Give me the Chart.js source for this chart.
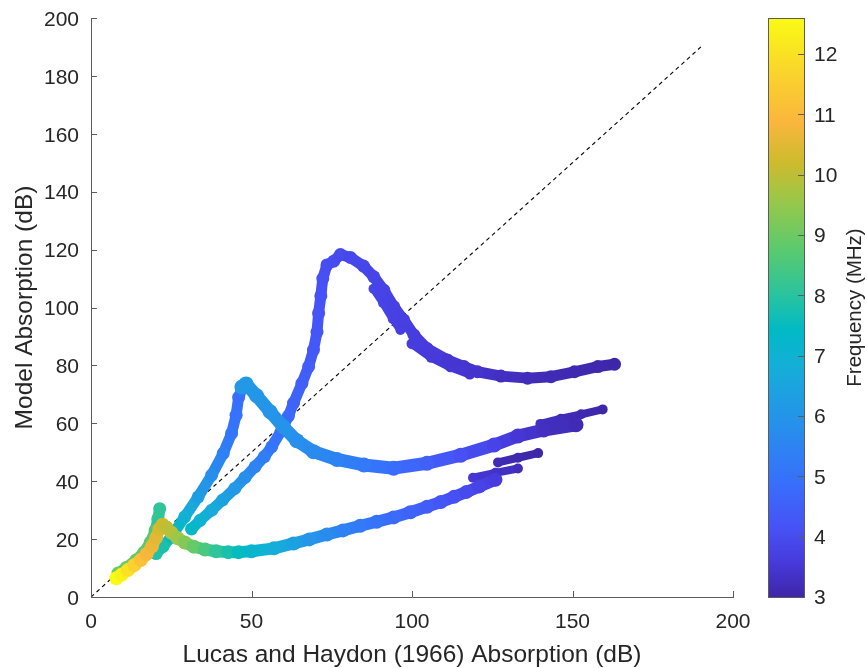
<!DOCTYPE html>
<html lang="en">
<head>
<meta charset="UTF-8">
<title>Model vs Lucas and Haydon absorption</title>
<script src="https://cdn.jsdelivr.net/npm/chart.js@4.4.1/dist/chart.umd.min.js"></script>
<style>
  html, body { margin: 0; padding: 0; background: #fff; }
  #wrap { width: 867px; height: 668px; }
</style>
</head>
<body>
<div id="wrap"><canvas id="chart" width="867" height="668"></canvas></div>
<script>
// axis ticks
const xTicks = [0, 50, 100, 150, 200];
const yTicks = [0, 20, 40, 60, 80, 100, 120, 140, 160, 180, 200];
const cbTicks = [3, 4, 5, 6, 7, 8, 9, 10, 11, 12];
const cbMin = 3;
const cbMax = 12.6;

// 1:1 reference line
const diagX = [0, 190];
const diagY = [0, 190];

// yellow start + lower curve (x = Lucas and Haydon dB, y = model dB, f = MHz)
const bottomX = [7.9, 9.5, 11.5, 13.5, 15.5, 17.3, 19, 20.3, 21.3, 22.3, 23.5, 25, 27, 29.2, 32, 35.5, 39, 42.7, 46, 50, 57, 63.1, 68, 73.5, 78.5, 83.9, 89, 94.3, 99.5, 104.7, 109, 113.1, 117, 121, 126];
const bottomY = [6.5, 7.7, 9.3, 11, 12.8, 14.8, 17.5, 20.5, 23.5, 25, 24, 22.3, 20.3, 18.8, 17.4, 16.4, 15.8, 15.5, 15.5, 15.8, 16.8, 18.5, 19.9, 21.6, 23, 24.6, 26, 27.5, 29.3, 31.2, 32.8, 34.6, 36.3, 38.2, 40.5];
const bottomF = [12.6, 12.4, 12.0, 11.6, 11.2, 10.9, 10.7, 10.5, 10.35, 10.2, 10.05, 9.9, 9.6, 9.3, 8.9, 8.5, 8.1, 7.8, 7.5, 7.2, 6.8, 6.4, 6.0, 5.7, 5.45, 5.2, 5.0, 4.8, 4.6, 4.4, 4.25, 4.1, 3.95, 3.8, 3.6];
const bottomTail1X = [119, 126, 133];
const bottomTail1Y = [41.2, 42.9, 44.4];
const bottomTail1F = [3.5, 3.35, 3.2];
const bottomTail2X = [126.8, 133, 139.3];
const bottomTail2Y = [46.5, 48.1, 49.7];
const bottomTail2F = [3.15, 3.08, 3.0];

// green spike + left rising band
const leftX = [8.4, 11, 14, 16.5, 18.5, 20, 20.8, 21.4, 21, 20, 19, 20.3, 22.5, 25, 29.2, 33.4, 37.6, 41.2, 43.8, 45.2, 46, 47.5];
const leftY = [8.3, 10.2, 12.8, 15.5, 19, 23, 27, 30.5, 26, 20, 15.5, 15, 17.5, 20.8, 27.7, 34.6, 42.1, 49.6, 56.5, 62.8, 69, 73];
const leftF = [9.0, 8.95, 8.9, 8.8, 8.7, 8.5, 8.3, 8.1, 8.05, 8.0, 7.95, 7.9, 7.8, 7.5, 6.9, 6.3, 5.8, 5.4, 5.1, 5.0, 4.9, 4.9];

// curve falling from the 72 dB peak
const midX = [47, 48.3, 51.6, 55.8, 59.9, 64.1, 69.3, 76.6, 85, 94.3, 104.7, 115.2, 125.6, 133, 141, 151.1];
const midY = [72.5, 73.6, 69.5, 64, 58.8, 54, 50.2, 47.5, 45.6, 44.5, 46.2, 49, 52.5, 55.6, 57.7, 59.5];
const midF = [6.1, 6.1, 6.05, 6.0, 5.95, 5.85, 5.7, 5.45, 5.2, 4.9, 4.5, 4.1, 3.8, 3.5, 3.3, 3.15];
const midTailX = [140, 146.4, 152.7, 159.4];
const midTailY = [59.8, 61.6, 63.1, 64.8];
const midTailF = [3.3, 3.2, 3.1, 3.0];

// right rising band, 118 dB peak and its tail
const highX = [31.3, 34, 37.6, 41, 44.8, 48, 51.1, 54, 56.3, 59.4, 61.5, 63.1, 65.7, 67.8, 69.3, 70.4, 70.9, 71.6, 72.2, 73.5, 75.6, 77.7, 80.8, 84.9, 88.1, 91.2, 94.3, 97.4, 100.6, 104.7, 111, 116.2, 120.4, 127.7, 136, 143.3, 150.6, 157.9, 163.1];
const highY = [23.5, 26.5, 30, 33.5, 37.5, 41.3, 45, 48.5, 51.9, 57.7, 62.5, 67, 73.8, 79.6, 85.3, 91.5, 98, 104, 110, 114.7, 116, 118.3, 117.3, 114.3, 110.6, 106, 100.3, 95.7, 90.5, 85.8, 81.9, 79.6, 77.8, 76.3, 75.6, 76.1, 77.8, 79.6, 80.4];
const highF = [7.3, 7.0, 6.7, 6.4, 6.1, 5.8, 5.5, 5.3, 5.1, 4.9, 4.75, 4.6, 4.5, 4.4, 4.3, 4.25, 4.2, 4.15, 4.1, 4.05, 4.0, 3.95, 3.9, 3.87, 3.83, 3.8, 3.75, 3.7, 3.65, 3.6, 3.5, 3.45, 3.4, 3.3, 3.2, 3.15, 3.1, 3.05, 3.0];
const highInnerX = [88, 91, 94, 96.4];
const highInnerY = [106.5, 101.5, 96, 92.2];
const highInnerF = [3.85, 3.8, 3.75, 3.7];
const highLowerX = [100, 106, 112, 118];
const highLowerY = [87.5, 82.8, 79.5, 77];
const highLowerF = [3.65, 3.55, 3.5, 3.42];

const fontFamily = "'Liberation Sans', Arial, Helvetica, sans-serif";
const textColor = '#262626';
const axisColor = '#5c5c5c';

// parula-like colormap, position 0..1
const parulaStops = [
  [0.00, 62, 38, 168],
  [0.06, 71, 58, 220],
  [0.12, 71, 82, 246],
  [0.20, 55, 112, 252],
  [0.30, 38, 145, 235],
  [0.40, 20, 175, 215],
  [0.46, 0, 186, 198],
  [0.52, 40, 195, 160],
  [0.60, 90, 202, 110],
  [0.68, 150, 200, 75],
  [0.75, 205, 187, 45],
  [0.82, 250, 182, 60],
  [0.90, 250, 210, 45],
  [1.00, 249, 251, 20]
];

function parula(f) {
  let t = (f - cbMin) / (cbMax - cbMin);
  t = Math.max(0, Math.min(1, t));
  for (let i = 1; i < parulaStops.length; i++) {
    const a = parulaStops[i - 1];
    const b = parulaStops[i];
    if (t <= b[0]) {
      const u = (t - a[0]) / (b[0] - a[0]);
      const r = Math.round(a[1] + (b[1] - a[1]) * u);
      const g = Math.round(a[2] + (b[2] - a[2]) * u);
      const bl = Math.round(a[3] + (b[3] - a[3]) * u);
      return `rgb(${r},${g},${bl})`;
    }
  }
  return 'rgb(249,251,20)';
}

// one band of markers, joined by a thick line coloured by frequency
function branch(xs, ys, fs, width, order) {
  return {
    data: xs.map((x, i) => ({ x: x, y: ys[i] })),
    showLine: true,
    order: order,
    borderWidth: width,
    borderCapStyle: 'round',
    borderJoinStyle: 'round',
    borderColor: parula(fs[0]),
    segment: {
      borderColor: ctx => parula((fs[ctx.p0DataIndex] + fs[ctx.p1DataIndex]) / 2)
    },
    pointRadius: width / 2 + 1,
    pointBorderWidth: 0,
    pointBackgroundColor: fs.map(parula),
    pointHoverRadius: width / 2 + 1
  };
}

const datasets = [
  branch(bottomX, bottomY, bottomF, 12, 1),
  branch(bottomTail1X, bottomTail1Y, bottomTail1F, 8, 1),
  branch(bottomTail2X, bottomTail2Y, bottomTail2F, 8, 1),
  branch(midX, midY, midF, 13, 2),
  branch(midTailX, midTailY, midTailF, 8, 2),
  branch(leftX, leftY, leftF, 11, 3),
  branch(highX, highY, highF, 11, 4),
  branch(highInnerX, highInnerY, highInnerF, 8, 4),
  branch(highLowerX, highLowerY, highLowerF, 9, 4),
  {
    data: diagX.map((x, i) => ({ x: x, y: diagY[i] })),
    showLine: true,
    order: 10,
    borderColor: '#000',
    borderWidth: 1.1,
    borderDash: [4, 3.5],
    pointRadius: 0
  }
];

// MATLAB style inward ticks and the colorbar
const matlabAxes = {
  id: 'matlabAxes',
  afterDraw(chart) {
    const { ctx, chartArea } = chart;
    const sx = chart.scales.x;
    const sy = chart.scales.y;
    const cb = chart.scales.cb;
    ctx.save();
    ctx.strokeStyle = axisColor;
    ctx.lineWidth = 1;
    ctx.beginPath();
    yTicks.forEach(v => {
      const py = Math.round(sy.getPixelForValue(v)) + 0.5;
      ctx.moveTo(chartArea.left, py);
      ctx.lineTo(chartArea.left + 6, py);
    });
    xTicks.forEach(v => {
      const px = Math.round(sx.getPixelForValue(v)) + 0.5;
      ctx.moveTo(px, chartArea.bottom);
      ctx.lineTo(px, chartArea.bottom - 6);
    });
    ctx.stroke();

    // colorbar
    const left = 768, right = 804;
    const top = cb.getPixelForValue(cbMax);
    const bottom = cb.getPixelForValue(cbMin);
    const grad = ctx.createLinearGradient(0, bottom, 0, top);
    parulaStops.forEach(s => grad.addColorStop(s[0], `rgb(${s[1]},${s[2]},${s[3]})`));
    ctx.fillStyle = grad;
    ctx.fillRect(left, top, right - left, bottom - top);
    ctx.strokeStyle = axisColor;
    ctx.strokeRect(left + 0.5, Math.round(top) + 0.5, right - left, Math.round(bottom - top));
    ctx.beginPath();
    cbTicks.forEach(v => {
      const py = Math.round(cb.getPixelForValue(v)) + 0.5;
      ctx.moveTo(right, py);
      ctx.lineTo(right - 6, py);
    });
    ctx.stroke();

    ctx.translate(855, (cb.top + cb.bottom) / 2);
    ctx.rotate(-Math.PI / 2);
    ctx.fillStyle = textColor;
    ctx.font = `20.5px ${fontFamily}`;
    ctx.textAlign = 'center';
    ctx.textBaseline = 'middle';
    ctx.fillText('Frequency (MHz)', 0, 0);
    ctx.restore();
  }
};

const tickFont = { family: fontFamily, size: 21 };

// keep the plot box fixed: vertical scales should not push the chart area
function fixVertical(width) {
  return s => {
    s.width = width;
    s.paddingTop = 0;
    s.paddingBottom = 0;
  };
}

new Chart(document.getElementById('chart'), {
  type: 'scatter',
  data: { datasets: datasets },
  options: {
    responsive: false,
    animation: false,
    events: [],
    layout: { padding: { left: 0, right: 0, top: 18, bottom: 0 } },
    plugins: { legend: { display: false }, tooltip: { enabled: false } },
    scales: {
      x: {
        type: 'linear',
        position: 'bottom',
        min: 0,
        max: 200,
        afterBuildTicks: s => { s.ticks = xTicks.map(v => ({ value: v })); },
        afterFit: s => { s.height = 71; },
        grid: { display: true, drawOnChartArea: false, drawTicks: false },
        border: { display: true, color: axisColor, width: 1 },
        ticks: { padding: 13, color: textColor, font: tickFont, maxRotation: 0 },
        title: {
          display: true,
          text: 'Lucas and Haydon (1966) Absorption (dB)',
          color: textColor,
          font: { family: fontFamily, size: 24.5, lineHeight: 1 },
          padding: { top: 0, bottom: 1 }
        }
      },
      y: {
        type: 'linear',
        position: 'left',
        min: 0,
        max: 200,
        afterBuildTicks: s => { s.ticks = yTicks.map(v => ({ value: v })); },
        afterFit: fixVertical(91),
        grid: { display: true, drawOnChartArea: false, drawTicks: false },
        border: { display: true, color: axisColor, width: 1 },
        ticks: { padding: 12, labelOffset: 2, color: textColor, font: tickFont },
        title: {
          display: true,
          text: 'Model Absorption (dB)',
          color: textColor,
          font: { family: fontFamily, size: 24.5, lineHeight: 1 },
          padding: { top: 13, bottom: 0 }
        }
      },
      cb: {
        type: 'linear',
        position: 'right',
        min: cbMin,
        max: cbMax,
        afterBuildTicks: s => { s.ticks = cbTicks.map(v => ({ value: v })); },
        afterFit: fixVertical(134),
        grid: { display: false, drawTicks: false },
        border: { display: false },
        ticks: { padding: 81, labelOffset: 1.5, color: textColor, font: tickFont }
      }
    }
  },
  plugins: [matlabAxes]
});
</script>
</body>
</html>
